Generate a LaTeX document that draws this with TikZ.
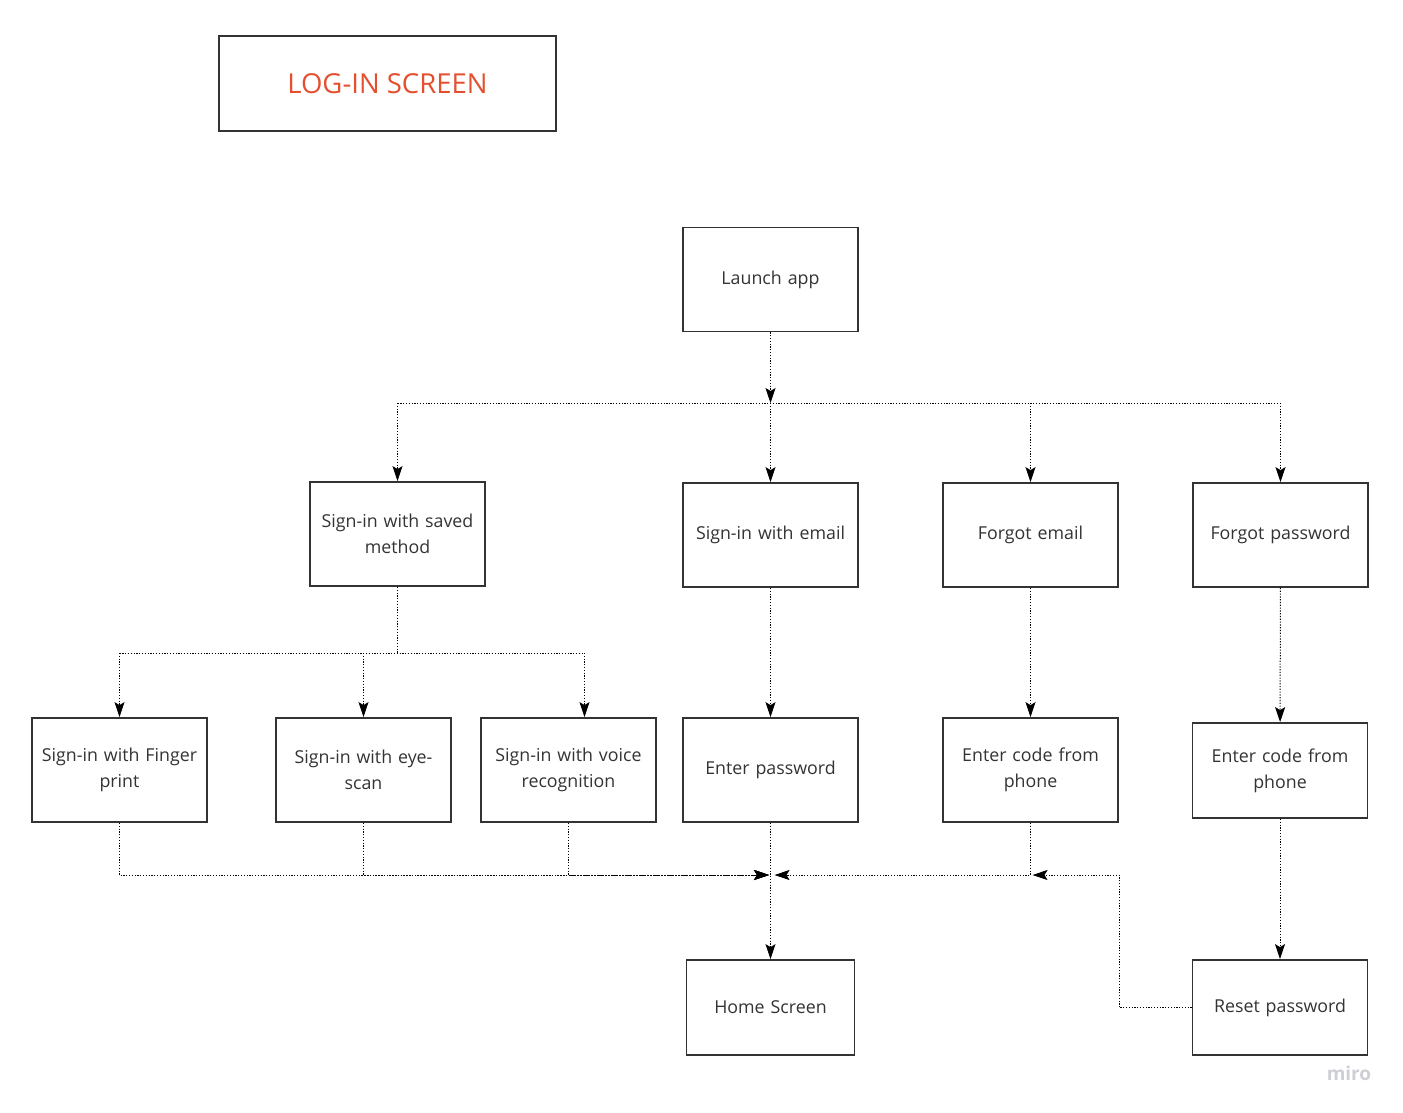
\documentclass[tikz,border=0pt]{standalone}
\usepackage{fontspec}
\setmainfont{Open Sans}
\usetikzlibrary{arrows.meta}

\definecolor{boxline}{HTML}{333333}
\definecolor{titlered}{HTML}{E4502F}
\definecolor{mirogray}{HTML}{CDCFD5}

\begin{document}
\begin{tikzpicture}[x=1pt, y=-1pt,
    stepbox/.style={draw=boxline, line width=1.8pt, minimum width=175pt, minimum height=104pt,
        text width=168pt, align=center, inner sep=0pt, text=boxline,
        font=\fontsize{17.8}{26}\selectfont},
    link/.style={line width=1pt, dash pattern=on 1.2pt off 1.6pt},
    flow/.style={link, -{Stealth[length=15pt, width=10pt, inset=3pt]}}]
    \useasboundingbox (0,0) rectangle (1403,1112);

    % Title
    \node[draw=boxline, line width=1.8pt, minimum width=337pt, minimum height=95pt, inner sep=0pt,
        text=titlered, font=\fontsize{27.5}{30}\selectfont] (title) at (387.5,83.5) {LOG-IN SCREEN};

    % Screens
    \node[stepbox] (launch) at (770.5,279.5) {Launch app};

    \node[stepbox] (saved) at (397.5,534) {Sign-in with saved\\method};
    \node[stepbox] (email) at (770.5,535) {Sign-in with email};
    \node[stepbox] (forgotmail) at (1030.5,535) {Forgot email};
    \node[stepbox] (forgotpw) at (1280.5,535) {Forgot password};

    \node[stepbox] (finger) at (119.5,770) {Sign-in with Finger\\print};
    \node[stepbox] (eye) at (363.5,770) {Sign-in with eye-\\scan};
    \node[stepbox] (voice) at (568.5,770) {Sign-in with voice\\recognition};
    \node[stepbox] (password) at (770.5,770) {Enter password};
    \node[stepbox] (codemid) at (1030.5,770) {Enter code from\\phone};
    \node[stepbox, minimum height=95pt] (coderight) at (1280,770.5) {Enter code from\\phone};

    \node[stepbox, minimum width=167pt, minimum height=95pt] (home) at (770.5,1007.5) {Home Screen};
    \node[stepbox, minimum height=95pt] (reset) at (1280,1007.5) {Reset password};

    \node[text=mirogray, font=\fontsize{19}{20}\selectfont\bfseries] (miro) at (1349,1073) {miro};

    % Launch fan-out
    \coordinate (hub) at (770.5,403);
    \draw[flow] (launch) -- (hub);
    \draw[link] (saved.north |- hub) -- (forgotpw.north |- hub);
    \foreach \n in {saved, email, forgotmail, forgotpw}
        \draw[flow] (\n.north |- hub) -- (\n);

    % Saved method fan-out
    \coordinate (hub2) at (397.5,653);
    \coordinate (voicein) at ([xshift=16pt]voice.north);
    \draw[link] (saved) -- (hub2);
    \draw[link] (finger.north |- hub2) -- (voicein |- hub2);
    \foreach \n in {finger, eye}
        \draw[flow] (\n.north |- hub2) -- (\n);
    \draw[flow] (voicein |- hub2) -- (voicein);

    % Straight steps
    \draw[flow] (email) -- (password);
    \draw[flow] (forgotmail) -- (codemid);
    \draw[flow] (forgotpw) -- (coderight);
    \draw[flow] (coderight) -- (reset);
    \draw[flow] (password) -- (home);

    % Merge into home screen
    \coordinate (merge) at (770.5,875);
    \foreach \n in {finger, eye, voice}
        \draw[flow] (\n) |- ([xshift=-1.5pt]merge);
    \draw[flow] (codemid) |- ([xshift=4pt]merge);
    \coordinate (bend) at (1119,875);
    \draw[flow] (reset) -| (bend) -- ([xshift=2pt]codemid.south |- merge);
\end{tikzpicture}
\end{document}
